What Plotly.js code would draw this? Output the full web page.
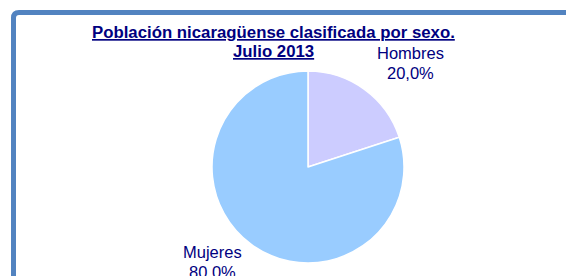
<!DOCTYPE html>
<html><head><meta charset="utf-8">
<script src="https://cdn.plot.ly/plotly-3.0.1.min.js"></script>
<style>html,body{margin:0;padding:0;background:#fff}#c{width:566px;height:276px}</style>
</head><body><div id="c"></div>
<script>
const categories = ["Hombres", "Mujeres"];
const values = [20.0, 80.0];
const colors = ["#CCCCFF", "#99CCFF"];
const titleLines = ["Población nicaragüense clasificada por sexo.", "Julio 2013"];

const W = 566, H = 276;
const px = x => x / W, py = y => 1 - y / H;
const total = values.reduce((a, b) => a + b, 0);
const pct = v => (v / total * 100).toFixed(1).replace('.', ',') + '%';
const FONT = 'Arial, Liberation Sans, sans-serif';

const labelPos = [{x: 410, y: 53}, {x: 212, y: 252}];
const annotations = [];
categories.forEach((c, i) => {
  [c, pct(values[i])].forEach((t, k) => annotations.push({
    xref: 'paper', yref: 'paper', x: px(labelPos[i].x), y: py(labelPos[i].y + k * 20),
    xanchor: 'center', yanchor: 'middle', showarrow: false, text: t,
    font: {family: FONT, size: 16.5, color: '#000080'}
  }));
});
titleLines.forEach((t, k) => annotations.push({
  xref: 'paper', yref: 'paper', x: px(273), y: py(33 + k * 19),
  xanchor: 'center', yanchor: 'middle', showarrow: false,
  text: '<b><u>' + t + '</u></b>',
  font: {family: FONT, size: 16.8, color: '#000080'}
}));

const border = `M ${px(13.5)},${py(H + 5)} L ${px(13.5)},${py(18)} Q ${px(13.5)},${py(12.5)} ${px(19)},${py(12.5)} L ${px(W + 5)},${py(12.5)}`;

Plotly.newPlot('c', [{
  type: 'pie', labels: categories, values: values, sort: false,
  direction: 'clockwise', rotation: 0, textinfo: 'none', hoverinfo: 'none',
  marker: {colors: colors, line: {color: '#FFFFFF', width: 1.5}},
  domain: {x: [px(212), px(404)], y: [py(263), py(71)]},
  showlegend: false
}], {
  width: W, height: H, margin: {l: 0, r: 0, t: 0, b: 0},
  paper_bgcolor: '#FFFFFF', showlegend: false,
  annotations: annotations,
  shapes: [{type: 'path', xref: 'paper', yref: 'paper', path: border,
    line: {color: '#5283C0', width: 5}}]
}, {staticPlot: true, displayModeBar: false});
</script></body></html>
